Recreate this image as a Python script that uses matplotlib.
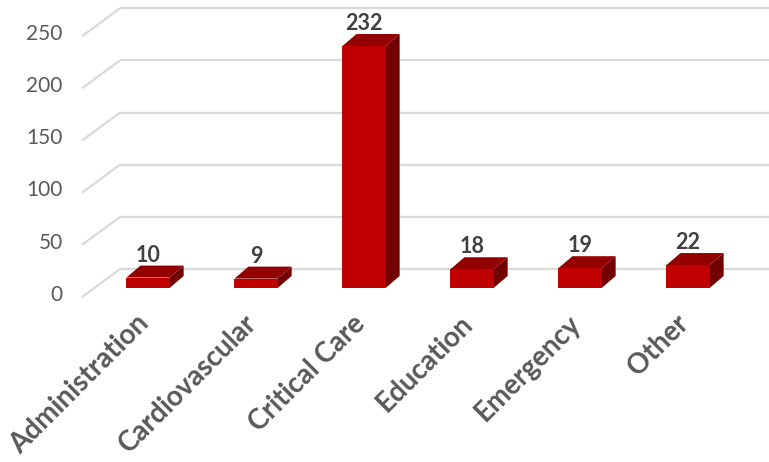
import matplotlib
matplotlib.use("Agg")
import matplotlib.pyplot as plt
from matplotlib.patches import Polygon

categories = ["Administration", "Cardiovascular", "Critical Care", "Education", "Emergency", "Other"]
values = [10, 9, 232, 18, 19, 22]
yticks = [0, 50, 100, 150, 200, 250]

W, H = 769, 462
fig = plt.figure(figsize=(W / 100, H / 100), dpi=100)
# front plane of the bars: x = category index, y = value
ax = fig.add_axes([94 / W, (H - 288) / H, 648 / W, 260.75 / H])
ax.set_xlim(-0.5, 5.5)
ax.set_ylim(0, 250)
ax.axis("off")

font = "Lato"
grid_c = "#d9d9d9"
front_c, top_c, side_c = "#c00000", "#920000", "#730000"

# depth geometry (in data units)
wall_dx_back, wall_dy_back = -0.259, 18.2     # back wall left edge
wall_dx_front, wall_dy_front = -0.611, -8.6   # front end of side lines
wall_right = 5.75
bar_w = 0.40
bar_dx, bar_dy = 0.13, 11.5

for t in yticks:
    ax.plot([wall_dx_front, wall_dx_back], [t + wall_dy_front, t + wall_dy_back],
            color=grid_c, lw=1.6, clip_on=False, zorder=1, solid_capstyle="butt")
    ax.plot([wall_dx_back, wall_right], [t + wall_dy_back, t + wall_dy_back],
            color=grid_c, lw=1.6, clip_on=False, zorder=1, solid_capstyle="butt")
    ax.text(-0.79, t - 6.5, f"{t}", ha="right", va="center", fontsize=15,
            color="#595959", family=font)

for i, v in enumerate(values):
    x0, x1 = i - bar_w / 2, i + bar_w / 2
    front = Polygon([(x0, 0), (x1, 0), (x1, v), (x0, v)], closed=True,
                    facecolor=front_c, edgecolor="none", zorder=3, clip_on=False)
    top = Polygon([(x0, v), (x1, v), (x1 + bar_dx, v + bar_dy), (x0 + bar_dx, v + bar_dy)],
                  closed=True, facecolor=top_c, edgecolor="none", zorder=3, clip_on=False)
    side = Polygon([(x1, 0), (x1 + bar_dx, bar_dy), (x1 + bar_dx, v + bar_dy), (x1, v)],
                   closed=True, facecolor=side_c, edgecolor="none", zorder=3, clip_on=False)
    for p in (side, top, front):
        ax.add_patch(p)
    ax.text(i, v + bar_dy + 10, f"{v}", ha="center", va="center",
            fontsize=15.5, fontweight="bold", color="#404040", family=font, zorder=4)
    ax.text(i - 0.03, -30, categories[i], ha="right", va="center", rotation=45,
            rotation_mode="anchor", fontsize=20, fontweight="bold", color="#595959",
            family=font)

fig.savefig("out.png", dpi=100)
